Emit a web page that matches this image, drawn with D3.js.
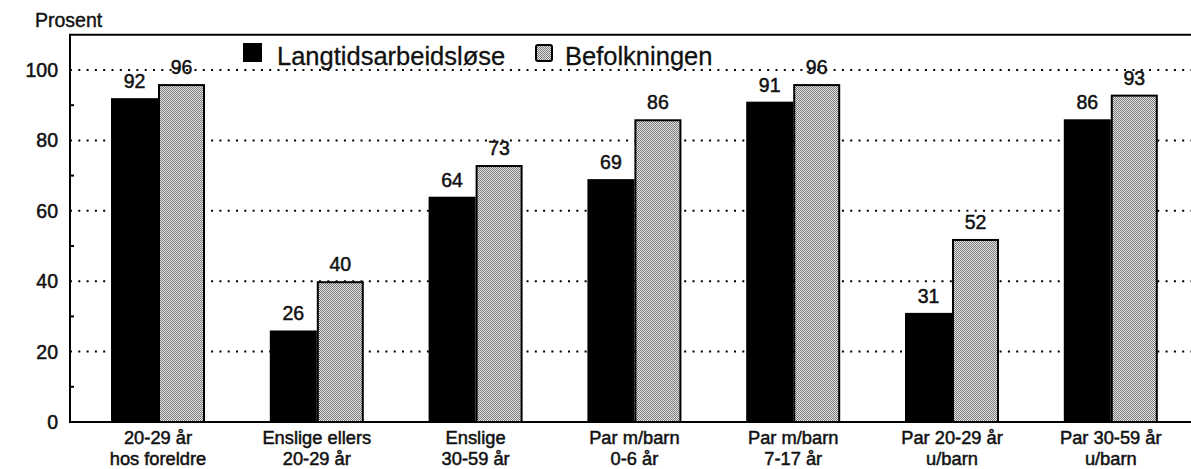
<!DOCTYPE html>
<html>
<head>
<meta charset="utf-8">
<script src="https://cdn.jsdelivr.net/npm/d3@7"></script>
<style>
  html, body { margin: 0; padding: 0; background: #fff; }
  svg { display: block; font-family: "Liberation Sans", Arial, Helvetica, sans-serif; }
</style>
</head>
<body>
<svg id="chart" width="1191" height="469"></svg>
<script>
// ---- data ----
const categories = [
  ["20-29 år", "hos foreldre"],
  ["Enslige ellers", "20-29 år"],
  ["Enslige", "30-59 år"],
  ["Par m/barn", "0-6 år"],
  ["Par m/barn", "7-17 år"],
  ["Par 20-29 år", "u/barn"],
  ["Par 30-59 år", "u/barn"]
];
const seriesNames = ["Langtidsarbeidsløse", "Befolkningen"];
const langtids = [92, 26, 64, 69, 91, 31, 86];
const befolkningen = [96, 40, 73, 86, 96, 52, 93];
const majorTicks = [0, 20, 40, 60, 80, 100];
const minorTicks = [10, 30, 50, 70, 90];
const yLabel = "Prosent";

// ---- layout ----
const svg = d3.select("#chart");
const W = 1191;
const axisX = 70;
const y = d3.scaleLinear().domain([0, 110]).range([422, 34.8]);
const x = d3.scaleBand().domain(d3.range(categories.length)).range([78.6, 1190.2]).padding(0);
const barW = 47;
const txt = "#111";

// pattern for grey bars
const defs = svg.append("defs");
const pat = defs.append("pattern").attr("id", "dots").attr("patternUnits", "userSpaceOnUse")
  .attr("width", 2).attr("height", 2);
pat.append("rect").attr("width", 2).attr("height", 2).attr("fill", "#e4e4e4");
pat.append("rect").attr("x", 0).attr("y", 0).attr("width", 1).attr("height", 1).attr("fill", "#7a7a7a");
pat.append("rect").attr("x", 1).attr("y", 1).attr("width", 1).attr("height", 1).attr("fill", "#7a7a7a");

// gridlines (dotted)
svg.append("g").selectAll("line").data(majorTicks.filter(d => d > 0)).join("line")
  .attr("x1", axisX).attr("x2", W)
  .attr("y1", d => y(d)).attr("y2", d => y(d))
  .attr("stroke", "#000").attr("stroke-width", 2)
  .attr("stroke-dasharray", "2,6.3");

// minor ticks
svg.append("g").selectAll("line").data(minorTicks).join("line")
  .attr("x1", axisX).attr("x2", axisX + 4)
  .attr("y1", d => y(d)).attr("y2", d => y(d))
  .attr("stroke", "#000").attr("stroke-width", 2);

// tick labels
svg.append("g").selectAll("text").data(majorTicks).join("text")
  .attr("x", 58).attr("y", d => y(d)).attr("dy", "0.36em")
  .attr("text-anchor", "end").attr("font-size", 19.5).attr("fill", txt)
  .attr("stroke", txt).attr("stroke-width", 0.5)
  .text(d => d);

// y label
svg.append("text").attr("x", 35).attr("y", 27).attr("font-size", 19.5).attr("fill", txt)
  .attr("stroke", txt).attr("stroke-width", 0.4).text(yLabel);

// bars
const groups = svg.append("g").selectAll("g").data(categories.map((c, i) => i)).join("g");
groups.append("rect")
  .attr("x", i => x(i) + x.bandwidth() / 2 - barW)
  .attr("y", i => y(langtids[i]))
  .attr("width", barW)
  .attr("height", i => y(0) - y(langtids[i]))
  .attr("fill", "#000");
groups.append("rect")
  .attr("x", i => x(i) + x.bandwidth() / 2 + 1)
  .attr("y", i => y(befolkningen[i]) + 1)
  .attr("width", barW - 2)
  .attr("height", i => y(0) - y(befolkningen[i]) - 1)
  .attr("fill", "url(#dots)").attr("stroke", "#000").attr("stroke-width", 2);

// value labels
groups.append("text")
  .attr("x", i => x(i) + x.bandwidth() / 2 - barW / 2)
  .attr("y", i => y(langtids[i]) - 10)
  .attr("text-anchor", "middle").attr("font-size", 19.5).attr("fill", txt)
  .attr("stroke", txt).attr("stroke-width", 0.5)
  .text(i => langtids[i]);
groups.append("text")
  .attr("x", i => x(i) + x.bandwidth() / 2 + barW / 2)
  .attr("y", i => y(befolkningen[i]) - 10)
  .attr("text-anchor", "middle").attr("font-size", 19.5).attr("fill", txt)
  .attr("stroke", txt).attr("stroke-width", 0.5)
  .text(i => befolkningen[i]);

// category labels (two lines each, as separate texts)
groups.append("text")
  .attr("x", i => x(i) + x.bandwidth() / 2).attr("y", 444)
  .attr("text-anchor", "middle").attr("font-size", 18.3).attr("fill", txt)
  .attr("stroke", txt).attr("stroke-width", 0.5)
  .text(i => categories[i][0]);
groups.append("text")
  .attr("x", i => x(i) + x.bandwidth() / 2).attr("y", 464.6)
  .attr("text-anchor", "middle").attr("font-size", 18.3).attr("fill", txt)
  .attr("stroke", txt).attr("stroke-width", 0.5)
  .text(i => categories[i][1]);

// frame: left axis, top line, bottom axis
svg.append("line").attr("x1", axisX).attr("x2", axisX).attr("y1", y(110)).attr("y2", y(0) + 1)
  .attr("stroke", "#000").attr("stroke-width", 2);
svg.append("line").attr("x1", axisX - 1).attr("x2", W).attr("y1", y(110)).attr("y2", y(110))
  .attr("stroke", "#000").attr("stroke-width", 2);
svg.append("line").attr("x1", axisX - 1).attr("x2", W).attr("y1", y(0)).attr("y2", y(0))
  .attr("stroke", "#000").attr("stroke-width", 2);

// legend
const leg = svg.append("g");
leg.append("rect").attr("x", 243).attr("y", 43).attr("width", 19).attr("height", 19).attr("fill", "#000");
leg.append("text").attr("x", 277).attr("y", 65).attr("font-size", 25.5).attr("fill", txt)
  .attr("stroke", txt).attr("stroke-width", 0.3).text(seriesNames[0]);
leg.append("rect").attr("x", 536).attr("y", 45).attr("width", 16).attr("height", 16)
  .attr("rx", 2).attr("fill", "url(#dots)").attr("stroke", "#000").attr("stroke-width", 2);
leg.append("text").attr("x", 565).attr("y", 65).attr("font-size", 25.5).attr("fill", txt)
  .attr("stroke", txt).attr("stroke-width", 0.3).text(seriesNames[1]);
</script>
</body>
</html>
